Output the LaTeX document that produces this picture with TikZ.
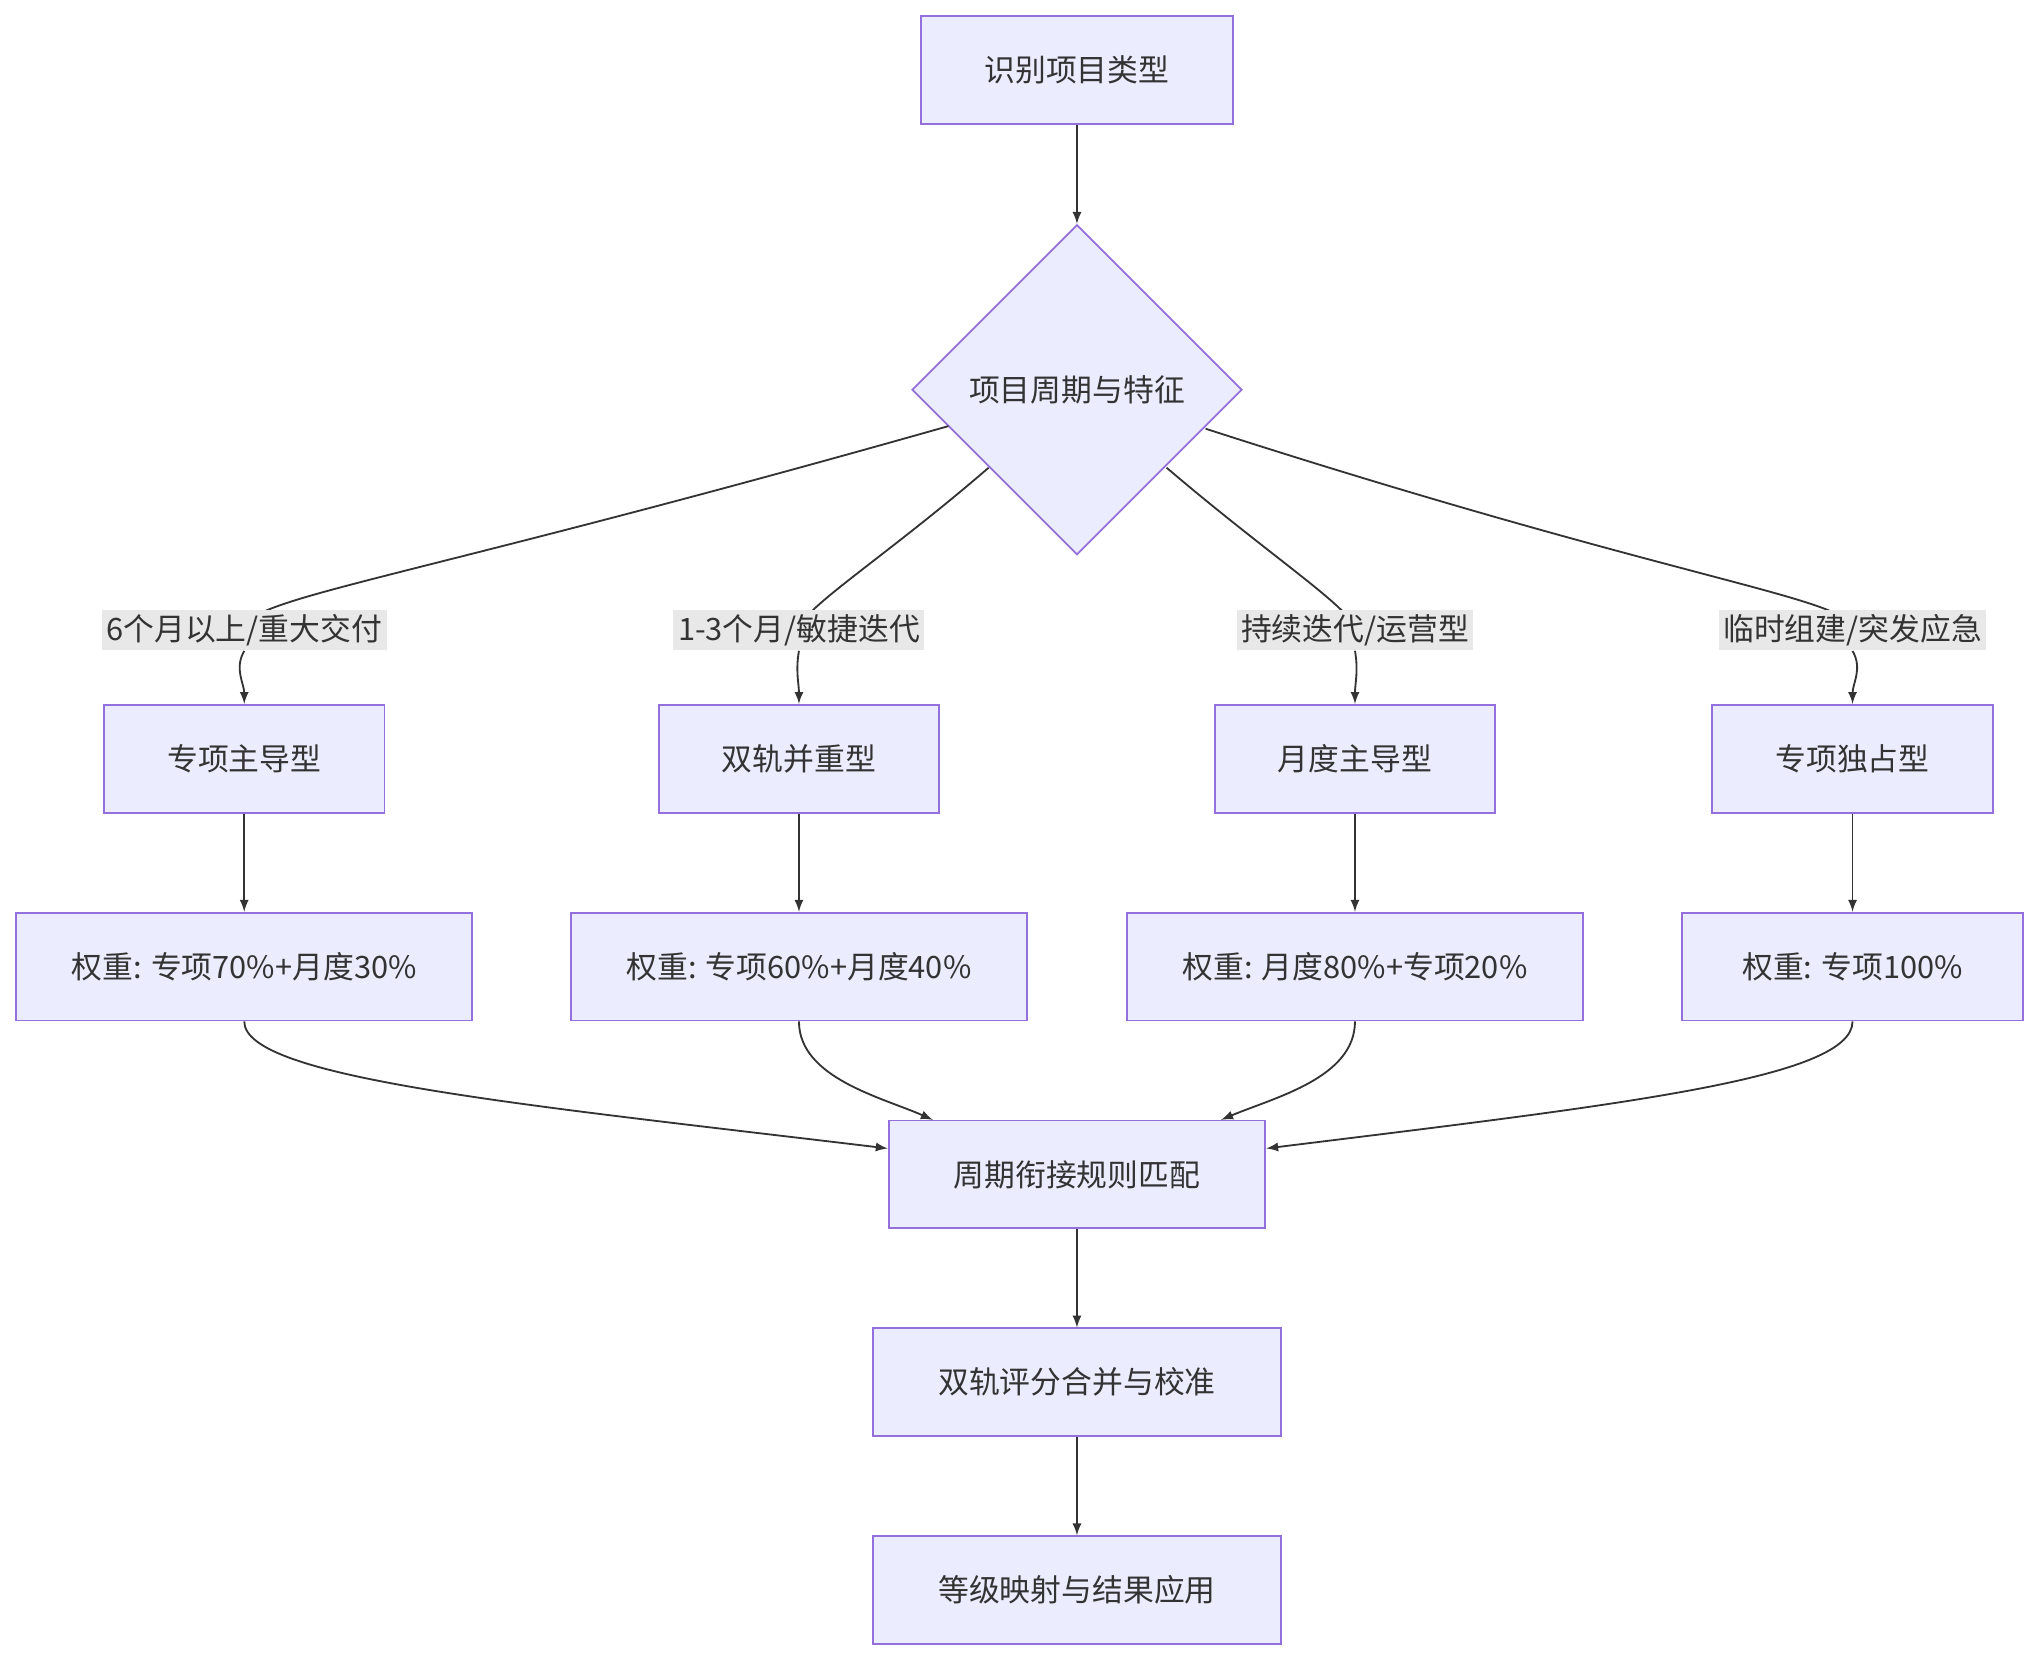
\documentclass[tikz,border=0pt]{standalone}
\usepackage{fontspec}
\newfontfamily\cjk{Noto Sans CJK SC}
\usetikzlibrary{shapes.geometric}
\definecolor{boxfill}{HTML}{ECECFF}
\definecolor{boxline}{HTML}{9370DB}
\definecolor{lineclr}{HTML}{333333}
\definecolor{lblfill}{HTML}{E8E8E8}
\tikzset{
  box/.style={draw=boxline, fill=boxfill, line width=0.8pt, minimum height=83*0.02cm, inner sep=0pt},
  lbl/.style={fill=lblfill, inner sep=2pt, text=lineclr},
  arr/.style={-latex, draw=lineclr, line width=0.8pt},
  ln/.style={draw=lineclr, line width=0.8pt}
}
\begin{document}
\begin{tikzpicture}[x=0.02cm, y=-0.02cm, font=\cjk\fontsize{13.5}{16}\selectfont, text=lineclr]
\useasboundingbox (0,0) rectangle (1568,1276);
\node[box, minimum width=240*0.02cm](A)at(829,54){识别项目类型};
\node[draw=boxline, fill=boxfill, line width=0.8pt, diamond, minimum width=254*0.02cm, minimum height=254*0.02cm, inner sep=0pt](D)at(829,300){项目周期与特征};
\draw[arr](A)--(D);
% types
\node[box, minimum width=216*0.02cm](B1)at(188,584){专项主导型};
\node[box, minimum width=216*0.02cm](B2)at(615,584){双轨并重型};
\node[box, minimum width=216*0.02cm](B3)at(1043,584){月度主导型};
\node[box, minimum width=216*0.02cm](B4)at(1426,584){专项独占型};
\coordinate(s1)at(730,328);
\coordinate(s2)at(761,360);
\coordinate(s3)at(898,360);
\coordinate(s4)at(928,330);
\draw[ln](s1)..controls(300,450)and(188,460)..(188,485);
\draw[ln](s2)..controls(680,430)and(615,470)..(615,485);
\draw[ln](s3)..controls(980,430)and(1043,470)..(1043,485);
\draw[ln](s4)..controls(1300,450)and(1426,460)..(1426,485);
\node[lbl](L1)at(188,485){6个月以上/重大交付};
\node[lbl](L2)at(615,485){1-3个月/敏捷迭代};
\node[lbl](L3)at(1043,485){持续迭代/运营型};
\node[lbl](L4)at(1426,485){临时组建/突发应急};
\draw[arr](L1.south)to[out=-120,in=90](B1);
\draw[arr](L2.south)to[out=-100,in=90](B2);
\draw[arr](L3.south)to[out=-80,in=90](B3);
\draw[arr](L4.south)to[out=-60,in=90](B4);
% weights
\node[box, minimum width=351*0.02cm](W1)at(188,744){权重: 专项70\%+月度30\%};
\node[box, minimum width=351*0.02cm](W2)at(615,744){权重: 专项60\%+月度40\%};
\node[box, minimum width=351*0.02cm](W3)at(1043,744){权重: 月度80\%+专项20\%};
\node[box, minimum width=262*0.02cm](W4)at(1426,744){权重: 专项100\%};
\foreach \i in {1,...,4}{\draw[arr](B\i)--(W\i);}
\node[box, minimum width=290*0.02cm](M)at(829,904){周期衔接规则匹配};
\draw[arr](W1.south)..controls(188,830)and(400,850)..(M.west|-684,884);
\draw[arr](W2.south)..controls(615,830)and(680,845)..(718,862);
\draw[arr](W3.south)..controls(1043,830)and(980,845)..(940,862);
\draw[arr](W4.south)..controls(1426,830)and(1250,850)..(M.east|-974,884);
\node[box, minimum width=314*0.02cm](C)at(829,1064){双轨评分合并与校准};
\node[box, minimum width=314*0.02cm](E)at(829,1224){等级映射与结果应用};
\draw[arr](M)--(C);
\draw[arr](C)--(E);
\end{tikzpicture}
\end{document}
